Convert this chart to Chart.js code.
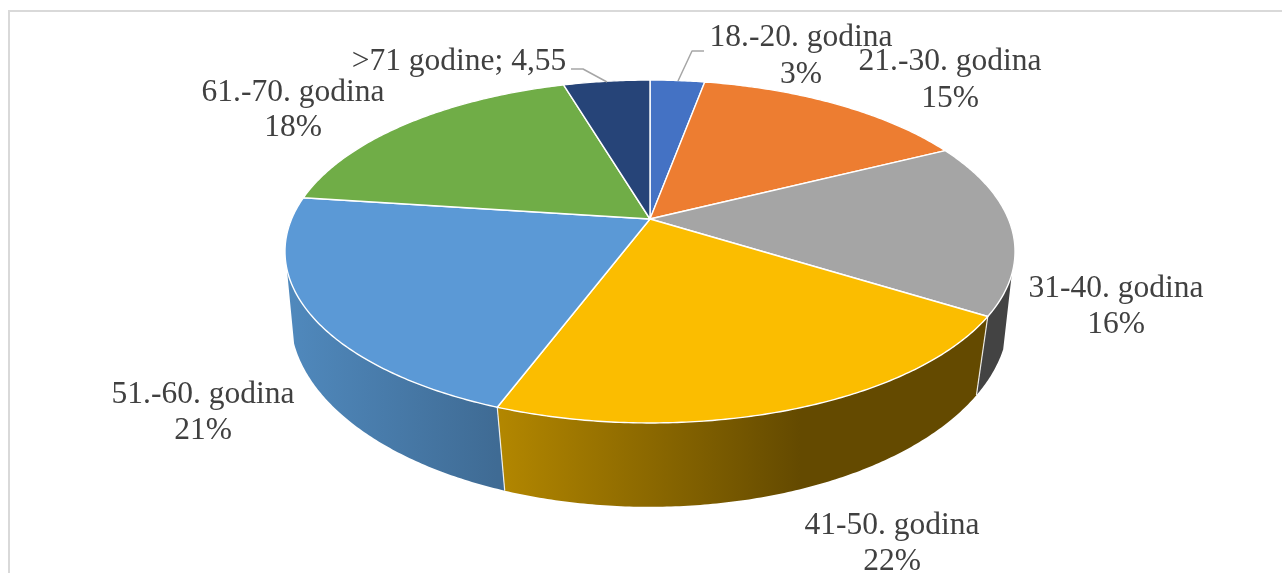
<!DOCTYPE html>
<html><head><meta charset="utf-8">
<style>html,body{margin:0;padding:0;background:#fff}#w{width:1282px;height:573px;position:relative}canvas{display:block}</style>
<script src="https://cdn.jsdelivr.net/npm/chart.js@4"></script>
</head><body><div id="w"><canvas id="c" width="1282" height="573"></canvas></div>
<script>
const categories = ["18.-20. godina","21.-30. godina","31-40. godina","41-50. godina","51.-60. godina","61.-70. godina",">71 godine"];
const values = [2.9,14.7,16.3,21.8,21.4,18.3,4.6];
const valueLabels = ["3%","15%","16%","22%","21%","18%","4,55"];
const topColors = ["#4472c4","#ed7d31","#a5a5a5","#fbbd00","#5b99d6","#70ad47","#264478"];
const sideFrom = ["#2f5597","#ae5a21","#434343","#b38700","#5089bd","#4e7a31","#1a2f54"];
const sideTo = ["#2f5597","#ae5a21","#434343","#644a00","#3f6b94","#4e7a31","#1a2f54"];

// layout of the labels (centre x, mid y of first and second line)
const labelPos = [[801,38,75],[950,62,99],[1116,289,325],[892,526,562],[203,395,431],[293,93,128]];
const tiltTop = {cx:650,cy:219,A:358.4,B:165.3,k:0.1895};
const tiltLow = {cx:649.5,cy:288,A:355,B:186,k:0.15};
const wallStart = 0.32, wallEnd = Math.PI-0.29;
const project = (p,a)=>{const u=Math.cos(a),v=Math.sin(a),w=1-p.k*v;return [p.cx+p.A*u/w,p.cy+p.B*v/w];};

function rim(ctx,p,a0,a1,move){
  const n=Math.max(2,Math.ceil(Math.abs(a1-a0)/0.01));
  for(let i=0;i<=n;i++){const q=project(p,a0+(a1-a0)*i/n);(i===0&&move)?ctx.moveTo(q[0],q[1]):ctx.lineTo(q[0],q[1]);}
}
const pie3d = {
  id:'pie3d',
  beforeDatasetDraw(chart,args){
    const ctx=chart.ctx, arcs=chart.getDatasetMeta(args.index).data;
    ctx.save();
    // frame
    ctx.fillStyle='#d9d9d9';
    ctx.fillRect(8,10,1274,2); ctx.fillRect(8,10,2,563);
    // side wall
    arcs.forEach((el,i)=>{
      const a0=el.startAngle,a1=el.endAngle;
      const s=Math.max(a0,wallStart), e=Math.min(a1,wallEnd);
      if(e<=s) return;
      const pA=project(tiltTop,s), pB=project(tiltTop,e);
      const g=ctx.createLinearGradient(Math.min(pA[0],pB[0]),0,i===3?800:Math.max(pA[0],pB[0]),0);
      g.addColorStop(0,sideFrom[i]); g.addColorStop(1,sideTo[i]);
      ctx.beginPath();
      rim(ctx,tiltTop,s,e,true);
      rim(ctx,tiltLow,e,s,false);
      ctx.closePath();
      ctx.fillStyle=(i===3||i===4)?g:sideTo[i];
      ctx.fill();
      ctx.strokeStyle='rgba(255,255,255,0.85)'; ctx.lineWidth=1.2;
      if(a0>=wallStart&&a0<=wallEnd){
        const t=project(tiltTop,a0),b=project(tiltLow,a0);
        ctx.beginPath();ctx.moveTo(t[0],t[1]);ctx.lineTo(b[0],b[1]);ctx.stroke();
      }
    });
    // top face
    arcs.forEach((el,i)=>{
      ctx.beginPath();
      ctx.moveTo(tiltTop.cx,tiltTop.cy);
      rim(ctx,tiltTop,el.startAngle,el.endAngle,false);
      ctx.closePath();
      ctx.fillStyle=el.options.backgroundColor; ctx.fill();
      ctx.strokeStyle='#fff'; ctx.lineWidth=1.4; ctx.lineJoin='round'; ctx.stroke();
    });
    // leader lines
    ctx.strokeStyle='#a6a6a6'; ctx.lineWidth=1.5;
    ctx.beginPath();ctx.moveTo(678,81);ctx.lineTo(692,51);ctx.lineTo(704,51);ctx.stroke();
    ctx.beginPath();ctx.moveTo(607,82);ctx.lineTo(583,69);ctx.lineTo(571,69);ctx.stroke();
    // labels
    ctx.fillStyle='#404040'; ctx.font='31.5px "Liberation Serif"'; ctx.textAlign='center'; ctx.textBaseline='middle';
    labelPos.forEach((p,i)=>{ctx.fillText(categories[i],p[0],p[1]);ctx.fillText(valueLabels[i],p[0],p[2]);});
    ctx.fillText(categories[6]+'; '+valueLabels[6],459,62);
    ctx.restore();
    return false;
  }
};
new Chart(document.getElementById('c'),{
  type:'pie',
  data:{labels:categories,datasets:[{data:values,backgroundColor:topColors,borderColor:'#fff',borderWidth:1}]},
  options:{responsive:false,animation:false,rotation:0,
    plugins:{legend:{display:false},tooltip:{enabled:false}}},
  plugins:[pie3d]
});
</script></body></html>
